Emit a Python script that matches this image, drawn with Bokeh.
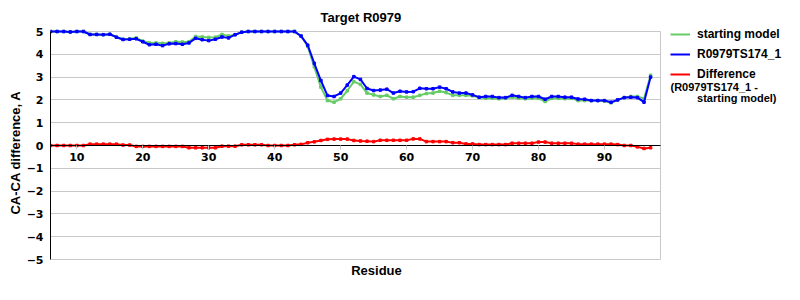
from bokeh.plotting import figure
from bokeh.models import Range1d, Legend, LegendItem, Label, FixedTicker
from bokeh.embed import file_html
from bokeh.resources import INLINE

# ---- data ----
residues = list(range(6, 98))

starting_model = [
    5.0, 5.0, 5.0, 4.98, 5.0, 5.0,
    4.87, 4.87, 4.86, 4.88, 4.75, 4.66, 4.68, 4.72, 4.58, 4.5,
    4.5, 4.48, 4.5, 4.55, 4.54, 4.55, 4.78, 4.76, 4.74, 4.75,
    4.87, 4.8, 4.86, 4.97, 5.0, 5.0, 5.0, 5.0, 5.0, 5.0,
    5.0, 5.0, 4.8, 4.35, 3.45, 2.56, 1.97, 1.9, 2.05, 2.4,
    2.8, 2.68, 2.3, 2.22, 2.15, 2.2, 2.05, 2.15, 2.12, 2.12,
    2.2, 2.28, 2.3, 2.38, 2.32, 2.2, 2.2, 2.2, 2.18, 2.1,
    2.07, 2.07, 2.05, 2.07, 2.12, 2.07, 2.05, 2.07, 2.07, 1.93,
    2.07, 2.07, 2.05, 2.07, 1.97, 1.97, 1.97, 1.97, 1.95, 1.87,
    2.0, 2.1, 2.15, 2.15, 2.05, 3.08,
]

model_ts174 = [
    5.0, 5.0, 5.0, 4.98, 5.0, 5.0,
    4.87, 4.87, 4.86, 4.88, 4.75, 4.65, 4.66, 4.68, 4.55, 4.42,
    4.44, 4.38, 4.46, 4.47, 4.44, 4.5, 4.7, 4.64, 4.6, 4.66,
    4.76, 4.72, 4.86, 4.97, 5.0, 5.0, 5.0, 5.0, 5.0, 5.0,
    5.0, 5.0, 4.8, 4.4, 3.6, 2.85, 2.19, 2.15, 2.3, 2.65,
    3.02, 2.9, 2.5, 2.41, 2.43, 2.47, 2.3, 2.38, 2.35, 2.36,
    2.51, 2.49, 2.49, 2.56, 2.49, 2.35, 2.3, 2.3, 2.22, 2.12,
    2.15, 2.15, 2.1, 2.1, 2.2, 2.15, 2.1, 2.15, 2.15, 2.03,
    2.15, 2.15, 2.12, 2.12, 2.04, 2.03, 1.97, 1.97, 1.97, 1.9,
    2.0, 2.1, 2.12, 2.1, 1.9, 3.0,
]

difference = [
    0.0, 0.0, 0.0, 0.0, 0.0, 0.0,
    0.06, 0.06, 0.06, 0.06, 0.06, 0.02, 0.02, -0.04, -0.04, -0.04,
    -0.04, -0.04, -0.04, -0.04, -0.04, -0.1, -0.1, -0.1, -0.1, -0.1,
    -0.03, -0.03, -0.03, 0.03, 0.03, 0.03, 0.03, 0.0, 0.0, 0.0,
    0.0, 0.03, 0.05, 0.12, 0.16, 0.22, 0.27, 0.28, 0.28, 0.28,
    0.22, 0.2, 0.19, 0.17, 0.23, 0.23, 0.23, 0.23, 0.23, 0.29,
    0.29, 0.17, 0.17, 0.17, 0.17, 0.12, 0.12, 0.07, 0.07, 0.04,
    0.04, 0.04, 0.04, 0.04, 0.1, 0.1, 0.1, 0.1, 0.15, 0.15,
    0.1, 0.1, 0.1, 0.1, 0.06, 0.06, 0.06, 0.06, 0.06, 0.06,
    0.04, 0.0, 0.0, -0.06, -0.13, -0.1,
]

x_min, x_max = 6, 98.5
y_min, y_max = -5, 5
x_ticks = [10, 20, 30, 40, 50, 60, 70, 80, 90]
y_ticks = [-5, -4, -3, -2, -1, 0, 1, 2, 3, 4, 5]
y_tick_labels = {v: (("\u2212%d" % -v) if v < 0 else str(v)) for v in y_ticks}

series_labels = ["starting model", "R0979TS174_1", "Difference"]
sub_label_1 = "(R0979TS174_1 -"
sub_label_2 = "starting model)"

GREEN = "#66CC66"
BLUE = "#0000FF"
RED = "#FF0000"
GRID = "#C8C8C8"

# Frame spans the legend area too; axes and grid are bounded to the data area.
PX_PER_RES = 610 / (x_max - x_min)      # plot area 610 px wide
PX_PER_VAL = 228 / (y_max - y_min)      # plot area 228 px tall
FRAME_W, FRAME_H = 750, 252
x_end = x_min + FRAME_W / PX_PER_RES
y_top = y_max + 5 / PX_PER_VAL
y_bot = y_top - FRAME_H / PX_PER_VAL

p = figure(width=800, height=300, output_backend="svg", toolbar_location=None,
           x_range=Range1d(x_min, x_end), y_range=Range1d(y_bot, y_top),
           min_border_left=50, min_border_right=0,
           min_border_top=26, min_border_bottom=22,
           title="Target R0979")

p.background_fill_color = "white"
p.border_fill_color = "white"
p.outline_line_color = None

p.title.align = "left"
p.title.offset = 270
p.title.text_font = "Liberation Sans"
p.title.text_font_size = "13px"
p.title.text_font_style = "bold"
p.title.text_color = "black"
p.title.standoff = 4

# x axis at y = 0
xa = p.xaxis[0]
xa.fixed_location = 0
xa.bounds = (x_min, x_max)
xa.ticker = FixedTicker(ticks=x_ticks)
xa.minor_tick_line_color = None
xa.major_tick_in = 0
xa.major_tick_out = 4
xa.major_tick_line_color = GRID
xa.axis_line_color = "black"
xa.major_label_text_font = "DejaVu Sans"
xa.major_label_text_font_style = "bold"
xa.major_label_text_font_size = "11px"
xa.major_label_text_color = "black"
xa.major_label_standoff = 3

ya = p.yaxis[0]
ya.bounds = (y_min, y_max)
ya.ticker = FixedTicker(ticks=y_ticks)
ya.major_label_overrides = y_tick_labels
ya.minor_tick_line_color = None
ya.major_tick_in = 0
ya.major_tick_out = 0
ya.axis_line_color = "black"
ya.major_label_text_font = "DejaVu Sans"
ya.major_label_text_font_style = "bold"
ya.major_label_text_font_size = "11px"
ya.major_label_text_color = "black"
ya.major_label_standoff = 7
ya.axis_label = "CA-CA difference, A"
ya.axis_label_text_font = "Liberation Sans"
ya.axis_label_text_font_style = "bold"
ya.axis_label_text_font_size = "13px"
ya.axis_label_text_color = "black"
ya.axis_label_standoff = 1

# horizontal grid limited to the plot area; right border as a bounded vertical grid line
p.xgrid.ticker = FixedTicker(ticks=[x_max])
p.xgrid.grid_line_color = GRID
p.xgrid.cross_bounds = (y_min, y_max)
p.ygrid.ticker = FixedTicker(ticks=y_ticks)
p.ygrid.grid_line_color = GRID
p.ygrid.grid_line_width = 1
p.ygrid.cross_bounds = (x_min, x_max)

renderers = []
for vals, col in [(starting_model, GREEN), (model_ts174, BLUE), (difference, RED)]:
    ln = p.line(residues, vals, line_color=col, line_width=2)
    p.scatter(residues, vals, marker="square", size=2.5, color=col)
    renderers.append(ln)

legend = Legend(items=[LegendItem(label=lab, renderers=[r]) for lab, r in zip(series_labels, renderers)],
                location=(620, FRAME_H - 56), orientation="vertical")
legend.border_line_color = None
legend.background_fill_alpha = 0
legend.padding = 0
legend.margin = 0
legend.spacing = 4
legend.glyph_height = 16
legend.glyph_width = 20
legend.label_height = 16
legend.label_standoff = 7
legend.label_text_font = "Liberation Sans"
legend.label_text_font_style = "bold"
legend.label_text_font_size = "12px"
legend.label_text_color = "black"
p.add_layout(legend)

def val_at(canvas_y):
    return y_max - (canvas_y - 31) / PX_PER_VAL

def res_at(canvas_x):
    return x_min + (canvas_x - 50) / PX_PER_RES

for txt, cx, cy, al in [(sub_label_1, 670, 86, "left"), (sub_label_2, 776, 97, "right")]:
    p.add_layout(Label(x=res_at(cx), y=val_at(cy), text=txt, text_align=al, text_baseline="middle",
                       text_font="Liberation Sans", text_font_style="bold",
                       text_font_size="11px", text_color="black"))

p.add_layout(Label(x=res_at(376), y=val_at(270), text="Residue", text_align="center",
                   text_baseline="middle", text_font="Liberation Sans", text_font_style="bold",
                   text_font_size="13px", text_color="black"))

open("out.html", "w").write(file_html(p, INLINE))
